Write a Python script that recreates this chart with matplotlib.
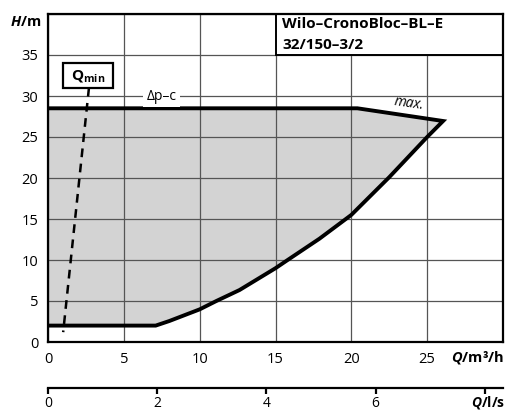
import numpy as np
import matplotlib.pyplot as plt
from matplotlib.patches import Rectangle, Polygon

plt.rcParams['font.family'] = ['Open Sans', 'DejaVu Sans']
plt.rcParams['mathtext.fontset'] = 'custom'
plt.rcParams['mathtext.bf'] = 'Open Sans:bold'
plt.rcParams['mathtext.it'] = 'Open Sans:italic:bold'
plt.rcParams['mathtext.rm'] = 'Open Sans:bold'

# operating field outline (Q in m3/h, H in m)
q_dpc = [0, 20.4]
h_dpc = [28.5, 28.5]
q_max = [20.4, 26.05]
h_max = [28.5, 26.95]
q_sys = [26.05, 25.0, 22.5, 20.0, 17.9, 15.8, 15.0, 12.63, 11.1, 10.0, 8.0, 7.1]
h_sys = [26.95, 25.0, 20.1, 15.5, 12.6, 10.0, 9.0, 6.34, 5.0, 3.98, 2.56, 2.0]
q_low = [7.1, 0]
h_low = [2.0, 2.0]

# Qmin dashed line
q_qmin = [2.7, 1.0]
h_qmin = [31.0, 1.2]

x_ticks = [0, 5, 10, 15, 20, 25]
y_ticks = [0, 5, 10, 15, 20, 25, 30, 35]
ls_ticks = [0, 2, 4, 6, 8]
ls_labels = ['0', '2', '4', '6', '']

fig = plt.figure(figsize=(5.07, 4.11), dpi=100)
ax = fig.add_axes([48 / 507, 1 - 342 / 411, 455 / 507, 328 / 411])
ax.set_xlim(0, 30)
ax.set_ylim(0, 40)

# grid
ax.set_xticks(x_ticks + [30])
ax.set_yticks(y_ticks + [40])
ax.set_xticklabels([str(t) for t in x_ticks] + [''])
ax.set_yticklabels([str(t) for t in y_ticks] + [''])
ax.grid(True, color='#555555', linewidth=0.9, zorder=2)
ax.set_axisbelow(False)
ax.tick_params(length=0, labelsize=10.5, pad=7)
for s in ax.spines.values():
    s.set_linewidth(1.6)
    s.set_zorder(6)

# filled field
outline_q = q_dpc + q_max[1:] + q_sys[1:] + q_low[1:]
outline_h = h_dpc + h_max[1:] + h_sys[1:] + h_low[1:]
ax.add_patch(Polygon(np.column_stack([outline_q, outline_h]), closed=True,
                     facecolor='#d3d3d3', edgecolor='none', zorder=1))

# thick border of the field
ax.plot(outline_q, outline_h, color='black', lw=2.8, zorder=4,
        solid_capstyle='butt', solid_joinstyle='miter')

ax.plot(q_qmin, h_qmin, color='black', lw=1.8, linestyle=(0, (3.5, 2.6)), zorder=4)

# labels on curves
ax.text(7.5, 30.0, '\u0394p\u2013c', fontsize=10, ha='center', va='center', zorder=5,
        bbox=dict(facecolor='white', edgecolor='none', pad=2.5))
ax.text(23.8, 29.1, 'max.', fontsize=10, style='italic', rotation=-8,
        ha='center', va='center', zorder=5)

# Qmin box
ax.add_patch(Rectangle((1.0, 31.0), 3.3, 3.0, facecolor='white', edgecolor='black',
                       linewidth=1.6, zorder=5))
ax.text(2.65, 32.5, r'$\mathbf{Q_{min}}$', fontsize=11, ha='center', va='center', zorder=6)

# title box
ax.add_patch(Rectangle((15, 35), 15, 5, facecolor='white', edgecolor='black',
                       linewidth=1.4, zorder=5))
ax.text(15.45, 38.3, 'Wilo\u2013CronoBloc\u2013BL\u2013E', fontsize=11,
        fontweight='bold', ha='left', va='baseline', zorder=6)
ax.text(15.45, 35.7, '32/150\u20133/2', fontsize=11,
        fontweight='bold', ha='left', va='baseline', zorder=6)

# axis titles
fig.text(41 / 507, 1 - 22 / 411, r'$H$' + '/m', fontsize=10.5, fontweight='bold',
         ha='right', va='center')
fig.text(504 / 507, 1 - 357 / 411, r'$Q$' + '/m\u00b3/h', fontsize=10.5,
         fontweight='bold', ha='right', va='center')

# second flow axis in l/s
ax2 = fig.add_axes([48 / 507, 1 - 388 / 411, 455 / 507, 0.0001])
ax2.set_xlim(0, 30 / 3.6)
ax2.set_ylim(0, 1)
for side in ['top', 'left', 'right']:
    ax2.spines[side].set_visible(False)
ax2.spines['bottom'].set_linewidth(1.6)
ax2.set_yticks([])
ax2.set_xticks(ls_ticks)
ax2.set_xticklabels(ls_labels)
ax2.tick_params(axis='x', direction='out', length=4, width=1.6, labelsize=10, pad=2)
fig.text(505 / 507, 1 - 402 / 411, r'$Q$' + '/l/s', fontsize=10,
         fontweight='bold', ha='right', va='center')

fig.savefig('out.png', dpi=100)
